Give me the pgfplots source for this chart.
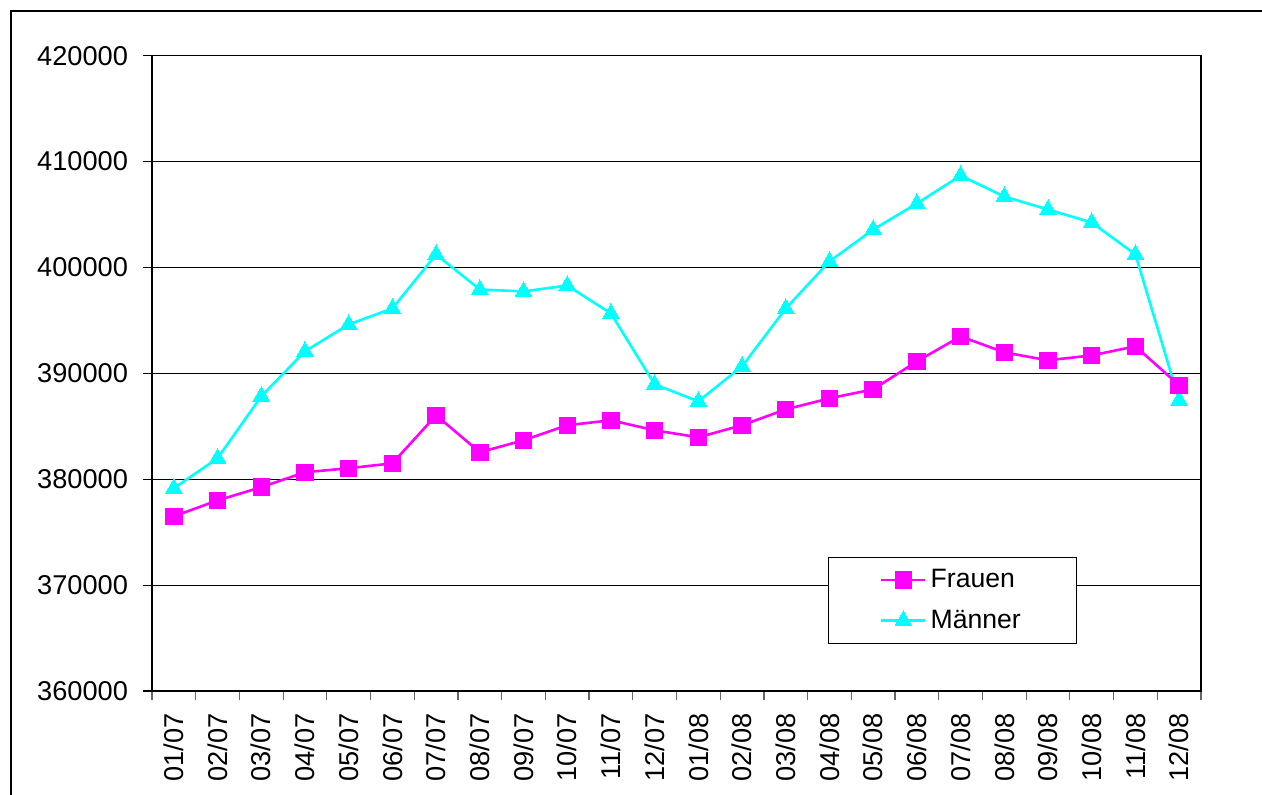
\documentclass[border=0pt]{standalone}
\usepackage{fontspec}
\setmainfont{Liberation Sans}
\usepackage{pgfplots}
\pgfplotsset{compat=1.18}
\definecolor{fmag}{RGB}{255,0,255}
\definecolor{mcyan}{RGB}{0,255,255}
\begin{document}
\begin{tikzpicture}
\useasboundingbox (0,0) rectangle (631pt,397pt);
\draw[line width=1.4pt] (5.5pt,-2pt) -- (5.5pt,391.5pt) -- (640pt,391.5pt);
\begin{axis}[
  at={(76pt,51.5pt)}, anchor=south west,
  scale only axis, width=524.5pt, height=317.65pt,
  xmin=-0.5, xmax=23.5, ymin=360000, ymax=420000,
  ytick={360000,370000,...,420000},
  scaled y ticks=false,
  yticklabel style={/pgf/number format/fixed, /pgf/number format/1000 sep={}, xshift=-4pt},
  /pgf/number format/assume math mode=true,
  font=\fontsize{13.6}{16}\selectfont,
  tick label style={font=\fontsize{13.6}{16}\selectfont},
  ymajorgrids, grid style={black, line width=0.5pt},
  axis line style={black, line width=0.6pt},
  tick align=outside, major tick length=4.5pt,
  xtick pos=left, ytick pos=left,
  xtick={-0.5,0.5,...,23.5}, xticklabels={},
  xtick style={gray!80!black, line width=0.6pt},
  ytick style={black, line width=0.6pt},
  extra x ticks={0,1,...,23},
  extra x tick labels={01/07,02/07,03/07,04/07,05/07,06/07,07/07,08/07,09/07,10/07,11/07,12/07,01/08,02/08,03/08,04/08,05/08,06/08,07/08,08/08,09/08,10/08,11/08,12/08},
  extra x tick style={major tick length=0pt, xticklabel style={rotate=90, anchor=east, inner sep=0pt, xshift=-11pt}},
  legend style={at={(0.644,0.211)}, anchor=north west, draw=black, line width=0.5pt,
    inner xsep=26pt, inner ysep=4pt, row sep=5.5pt, font=\fontsize{13.3}{16}\selectfont,
    legend cell align=left},
  reverse legend,
  legend image code/.code={\draw[#1, mark repeat=2, mark phase=2] plot coordinates {(0pt,0pt) (11pt,0pt) (22pt,0pt)};},
]
\addplot[mcyan, line width=1.3pt, mark=triangle*, mark size=4.8pt, mark options={solid, fill=mcyan, draw=mcyan, line width=0pt}]
coordinates {
(0,379150) (1,381980) (2,387830) (3,392080) (4,394620) (5,396130)
(6,401230) (7,397920) (8,397740) (9,398300) (10,395660) (11,388960)
(12,387360) (13,390660) (14,396130) (15,400570) (16,403580) (17,406040)
(18,408680) (19,406700) (20,405470) (21,404250) (22,401230) (23,387450)
};
\addlegendentry{Männer}
\addplot[fmag, line width=1.3pt, mark=square*, mark size=4.1pt, mark options={solid, fill=fmag, draw=fmag, line width=0pt}]
coordinates {
(0,376500) (1,378000) (2,379250) (3,380660) (4,381040) (5,381500)
(6,386040) (7,382550) (8,383680) (9,385100) (10,385570) (11,384620)
(12,383960) (13,385100) (14,386600) (15,387640) (16,388490) (17,391130)
(18,393490) (19,391980) (20,391230) (21,391700) (22,392550) (23,388870)
};
\addlegendentry{Frauen}
\end{axis}
\end{tikzpicture}
\end{document}
